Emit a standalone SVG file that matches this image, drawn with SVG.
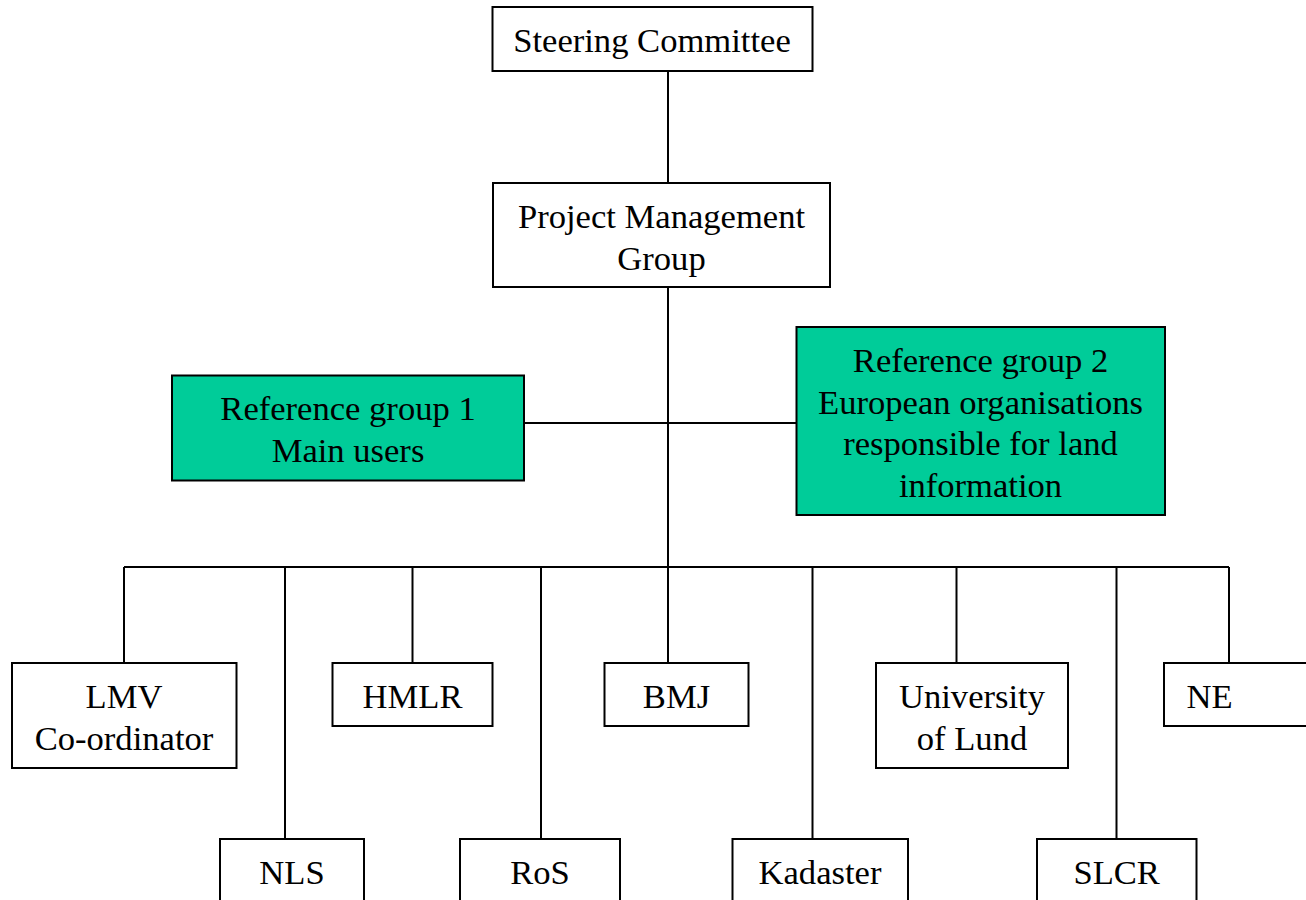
<svg xmlns="http://www.w3.org/2000/svg" width="1306" height="900" viewBox="0 0 1306 900">
<style>
.box{fill:#fff;stroke:#000;stroke-width:2}
.ref{fill:#00CC99;stroke:#000;stroke-width:2}
.ln{stroke:#000;stroke-width:2;fill:none}
text{font-family:"Liberation Serif","Times New Roman",serif;font-size:34.6px;fill:#000;text-anchor:middle}
</style>
<rect width="1306" height="900" fill="#fff"/>
<g id="connectors">
<line class="ln" x1="668" y1="71" x2="668" y2="183"/>
<line class="ln" x1="668" y1="287" x2="668" y2="567"/>
<line class="ln" x1="524" y1="423" x2="796" y2="423"/>
<line class="ln" x1="124" y1="567" x2="1229" y2="567"/>
<line class="ln" x1="124" y1="567" x2="124" y2="663"/>
<line class="ln" x1="285" y1="567" x2="285" y2="839"/>
<line class="ln" x1="412.5" y1="567" x2="412.5" y2="663"/>
<line class="ln" x1="541" y1="567" x2="541" y2="839"/>
<line class="ln" x1="668" y1="567" x2="668" y2="663"/>
<line class="ln" x1="812.5" y1="567" x2="812.5" y2="839"/>
<line class="ln" x1="956.5" y1="567" x2="956.5" y2="663"/>
<line class="ln" x1="1116.5" y1="567" x2="1116.5" y2="839"/>
<line class="ln" x1="1229" y1="567" x2="1229" y2="663"/>
</g>
<g id="steering"><rect class="box" x="492.5" y="7" width="320" height="64"/><text x="652" y="52">Steering Committee</text></g>
<g id="pmg"><rect class="box" x="493" y="183" width="337" height="104"/><text x="661.5" y="228">Project Management</text><text x="661.5" y="270">Group</text></g>
<g id="ref1"><rect class="ref" x="172" y="375.5" width="352" height="105"/><text x="348" y="420">Reference group 1</text><text x="348" y="462">Main users</text></g>
<g id="ref2"><rect class="ref" x="796.5" y="327" width="368.5" height="188"/><text x="980.5" y="372">Reference group 2</text><text x="980.5" y="413.5">European organisations</text><text x="980.5" y="455">responsible for land</text><text x="980.5" y="496.5">information</text></g>
<g id="lmv"><rect class="box" x="12" y="663" width="224.5" height="105"/><text x="124" y="708">LMV</text><text x="124" y="750">Co-ordinator</text></g>
<g id="hmlr"><rect class="box" x="332.5" y="663" width="160" height="63"/><text x="412.5" y="708">HMLR</text></g>
<g id="bmj"><rect class="box" x="604.5" y="663" width="144" height="63"/><text x="676.5" y="708">BMJ</text></g>
<g id="lund"><rect class="box" x="876" y="663" width="192" height="105"/><text x="972" y="708">University</text><text x="972" y="750">of Lund</text></g>
<g id="ne"><rect class="box" x="1164" y="663" width="150" height="63"/><text x="1209.5" y="708">NE</text></g>
<g id="nls"><rect class="box" x="220" y="839" width="144" height="70"/><text x="292" y="884">NLS</text></g>
<g id="ros"><rect class="box" x="460" y="839" width="160" height="70"/><text x="540" y="884">RoS</text></g>
<g id="kadaster"><rect class="box" x="732.5" y="839" width="175.5" height="70"/><text x="820" y="884">Kadaster</text></g>
<g id="slcr"><rect class="box" x="1037" y="839" width="159.5" height="70"/><text x="1116.7" y="884">SLCR</text></g>
</svg>
